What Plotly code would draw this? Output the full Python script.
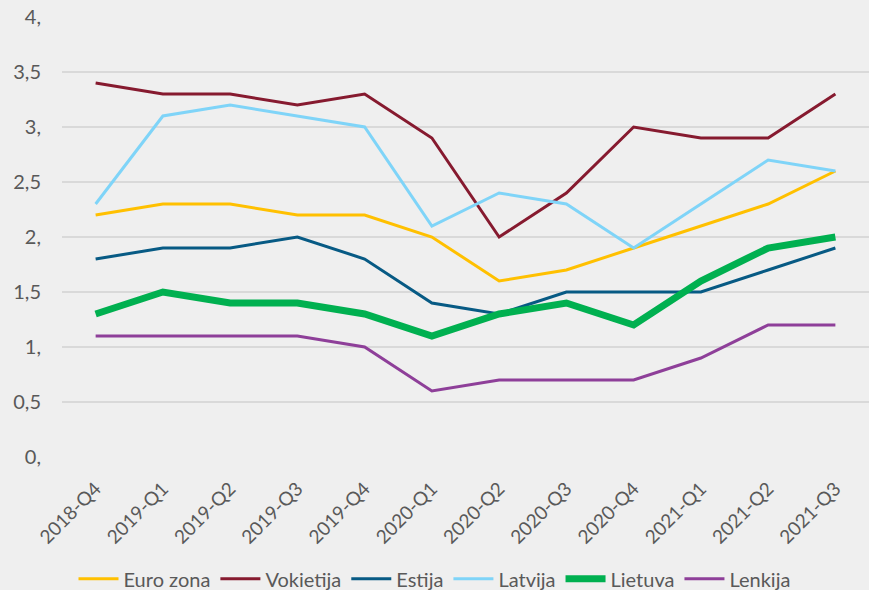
import plotly.graph_objects as go

quarters = ["2018-Q4", "2019-Q1", "2019-Q2", "2019-Q3", "2019-Q4", "2020-Q1",
            "2020-Q2", "2020-Q3", "2020-Q4", "2021-Q1", "2021-Q2", "2021-Q3"]

euro_zona = [2.2, 2.3, 2.3, 2.2, 2.2, 2.0, 1.6, 1.7, 1.9, 2.1, 2.3, 2.6]
vokietija = [3.4, 3.3, 3.3, 3.2, 3.3, 2.9, 2.0, 2.4, 3.0, 2.9, 2.9, 3.3]
estija = [1.8, 1.9, 1.9, 2.0, 1.8, 1.4, 1.3, 1.5, 1.5, 1.5, 1.7, 1.9]
latvija = [2.3, 3.1, 3.2, 3.1, 3.0, 2.1, 2.4, 2.3, 1.9, 2.3, 2.7, 2.6]
lietuva = [1.3, 1.5, 1.4, 1.4, 1.3, 1.1, 1.3, 1.4, 1.2, 1.6, 1.9, 2.0]
lenkija = [1.1, 1.1, 1.1, 1.1, 1.0, 0.6, 0.7, 0.7, 0.7, 0.9, 1.2, 1.2]

y_tick_vals = [0, 0.5, 1, 1.5, 2, 2.5, 3, 3.5, 4]
y_tick_text = ["0,", "0,5", "1,", "1,5", "2,", "2,5", "3,", "3,5", "4,"]

series = [
    ("Euro zona", euro_zona, "#FFC000", 3),
    ("Vokietija", vokietija, "#861A2F", 3),
    ("Estija", estija, "#075A84", 3),
    ("Latvija", latvija, "#7FD4F8", 3),
    ("Lietuva", lietuva, "#00B050", 7),
    ("Lenkija", lenkija, "#8E3F99", 3),
]

FONT = "Lato, 'Open Sans', sans-serif"
TXT = "#595959"

fig = go.Figure()
for name, vals, color, w in series:
    fig.add_trace(go.Scatter(
        x=quarters, y=vals, name=name, mode="lines",
        line=dict(color=color, width=w),
    ))

fig.update_layout(
    width=869, height=590,
    margin=dict(l=62, r=0, t=17, b=133),
    paper_bgcolor="#efefef",
    plot_bgcolor="#efefef",
    font=dict(family=FONT, size=20, color=TXT),
    showlegend=True,
    legend=dict(
        orientation="h", xref="container", yref="container",
        x=0.5, xanchor="center", y=0.019, yanchor="middle",
        font=dict(family=FONT, size=20, color=TXT),
        itemwidth=40, bgcolor="rgba(0,0,0,0)",
        tracegroupgap=0,
    ),
    xaxis=dict(
        type="category", range=[-0.5, 11.5],
        tickangle=-45, showgrid=False, showline=False, zeroline=False,
        ticks="", tickfont=dict(family=FONT, size=19, color=TXT),
        ticklabelstandoff=16,
    ),
    yaxis=dict(
        range=[0, 4], tickvals=y_tick_vals, ticktext=y_tick_text,
        showgrid=True, gridcolor="#d9d9d9", gridwidth=2,
        zeroline=False, showline=False, ticks="",
        tickfont=dict(family=FONT, size=20, color=TXT),
        ticklabelstandoff=20,
    ),
)

fig.write_html("out.html", config={"displayModeBar": False})

with open("out.html", "r", encoding="utf-8") as f:
    html = f.read()
html = html.replace("<head>", "<head><style>html,body{margin:0;padding:0;background:#efefef;}</style>", 1)
with open("out.html", "w", encoding="utf-8") as f:
    f.write(html)
